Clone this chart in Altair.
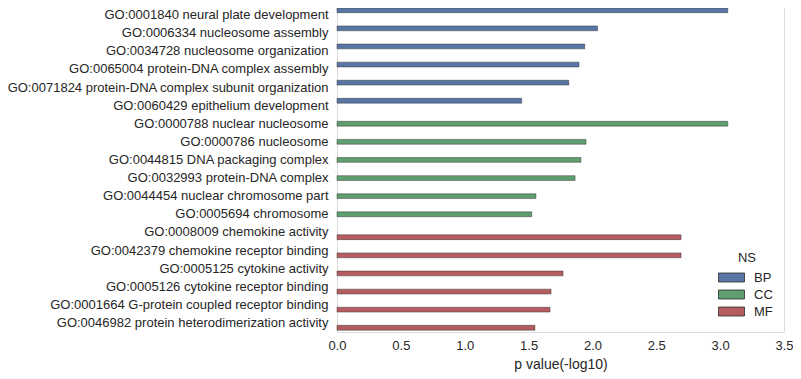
import altair as alt
import pandas as pd

terms = [
    "GO:0001840 neural plate development",
    "GO:0006334 nucleosome assembly",
    "GO:0034728 nucleosome organization",
    "GO:0065004 protein-DNA complex assembly",
    "GO:0071824 protein-DNA complex subunit organization",
    "GO:0060429 epithelium development",
    "GO:0000788 nuclear nucleosome",
    "GO:0000786 nucleosome",
    "GO:0044815 DNA packaging complex",
    "GO:0032993 protein-DNA complex",
    "GO:0044454 nuclear chromosome part",
    "GO:0005694 chromosome",
    "GO:0008009 chemokine activity",
    "GO:0042379 chemokine receptor binding",
    "GO:0005125 cytokine activity",
    "GO:0005126 cytokine receptor binding",
    "GO:0001664 G-protein coupled receptor binding",
    "GO:0046982 protein heterodimerization activity",
]
ns = ["BP"] * 6 + ["CC"] * 6 + ["MF"] * 6
pvals = [3.06, 2.04, 1.94, 1.895, 1.815, 1.446,
         3.06, 1.95, 1.91, 1.864, 1.558, 1.525,
         2.694, 2.694, 1.77, 1.676, 1.668, 1.55]

ns_domain = ["BP", "CC", "MF"]
ns_colors = ["#5975a4", "#5f9e6e", "#b55d60"]

df = pd.DataFrame({"term": terms, "NS": ns, "p": pvals})

FONT = "Liberation Sans"
TXT = "#262626"

chart = alt.Chart(df).mark_bar(
    stroke="#2b2b2b", strokeWidth=0.8, strokeOpacity=0.55
).encode(
    x=alt.X("p:Q", title="p value(-log10)",
            scale=alt.Scale(domain=[0, 3.5], nice=False),
            axis=alt.Axis(values=[0, 0.5, 1, 1.5, 2, 2.5, 3, 3.5], format=".1f",
                          grid=False, domain=False, ticks=False, labelFlush=False,
                          labelPadding=7, labelFontSize=13, titleFontSize=14,
                          titleFontWeight="normal", titlePadding=5,
                          labelColor=TXT, titleColor=TXT,
                          labelFont=FONT, titleFont=FONT)),
    y=alt.Y("term:N", sort=terms, title=None,
            scale=alt.Scale(paddingInner=0.2, paddingOuter=0.1),
            axis=alt.Axis(grid=False, domain=False, ticks=False, labelPadding=9,
                          labelFontSize=13, labelColor=TXT,
                          labelFont=FONT, labelLimit=400)),
    yOffset=alt.YOffset("NS:N", scale=alt.Scale(domain=ns_domain, paddingInner=0, paddingOuter=0)),
    color=alt.Color("NS:N", scale=alt.Scale(domain=ns_domain, range=ns_colors),
                    legend=alt.Legend(orient="none", legendX=385, legendY=246,
                                      title="NS", titleFontSize=13, titleFontWeight="normal",
                                      titleColor=TXT, titleFont=FONT,
                                      titleAnchor="middle", titlePadding=3,
                                      labelFontSize=13, labelColor=TXT,
                                      labelFont=FONT, labelOffset=13,
                                      symbolType="M-1.444,-0.5H1.444V0.5H-1.444Z", symbolSize=324,
                                      symbolStrokeColor="#2b2b2b", symbolStrokeWidth=0.8,
                                      rowPadding=0)),
).properties(
    width=447, height=326,
    autosize=alt.AutoSizeParams(type="none"),
    padding={"left": 329, "top": -2, "right": 9, "bottom": 40},
).configure_view(stroke=None).configure(background="white")

chart.save("out.html", embed_options={"renderer": "svg", "actions": False})
